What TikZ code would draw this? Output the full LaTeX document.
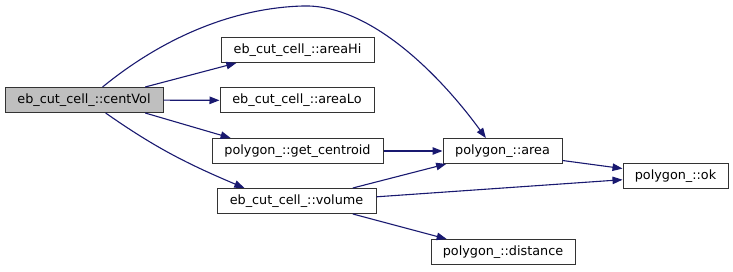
\documentclass[tikz,border=0pt]{standalone}
\usepackage{fontspec}
\setmainfont{DejaVu Sans}
\usetikzlibrary{arrows.meta}

\definecolor{edgeblue}{RGB}{25,25,112}
\definecolor{rootgray}{RGB}{191,191,191}

\begin{document}
\begin{tikzpicture}[
  x=1pt, y=-1pt,
  font=\fontsize{12.8}{15}\selectfont,
  fn/.style={draw=black!80, line width=1pt, fill=white, minimum height=25pt,
             inner sep=0pt},
  root/.style={fn, fill=rootgray},
  call/.style={-{Triangle[length=10pt,width=7.5pt]}, draw=edgeblue, line width=1.1pt},
]
\useasboundingbox (0,0) rectangle (733,272);

% caller and its direct callees
\node[root, minimum width=158pt] (centVol) at (84,100) {eb\_cut\_cell\_::centVol};
\node[fn, minimum width=153pt] (areaHi) at (297.5,50) {eb\_cut\_cell\_::areaHi};
\node[fn, minimum width=154pt] (areaLo) at (297,100.5) {eb\_cut\_cell\_::areaLo};
\node[fn, minimum width=171pt] (gcent) at (297.5,151) {polygon\_::get\_centroid};
\node[fn, minimum width=159pt] (volume) at (296.5,201) {eb\_cut\_cell\_::volume};

% polygon helpers
\node[fn, minimum width=119pt] (area) at (502.5,151) {polygon\_::area};
\node[fn, minimum width=105pt] (ok) at (675.5,176) {polygon\_::ok};
\node[fn, minimum width=144pt] (dist) at (503,252) {polygon\_::distance};

\draw[call] (centVol.12) -- (areaHi.192);
\draw[call] (centVol) -- (areaLo);
\draw[call] (centVol.35) .. controls (160,40) and (230,8) .. (303,6)
  .. controls (370,4) and (440,75) .. (area.142);
\draw[call] (centVol.-12) -- (gcent.169);
\draw[call] (centVol.-31) to[out=-35, in=157] (volume.166);
\draw[call] (gcent) -- (area);
\draw[call] (volume.13) -- (area.193);
\draw[call] (volume.3) -- (ok.184);
\draw[call] (volume.-13) -- (dist.167);
\draw[call] (area.-9) -- (ok.172);
\end{tikzpicture}
\end{document}
